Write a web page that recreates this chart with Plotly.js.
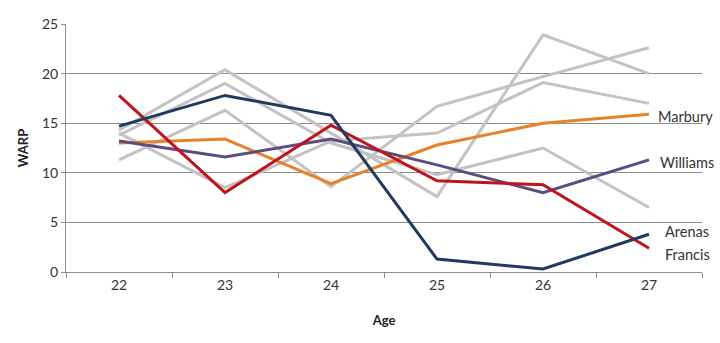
<!DOCTYPE html>
<html>
<head>
<meta charset="utf-8">
<script src="https://cdn.plot.ly/plotly-3.0.1.min.js"></script>
<style>html,body{margin:0;padding:0;background:#fff;}#chart{width:720px;height:343px;}</style>
</head>
<body>
<div id="chart"></div>
<script>
var ages = ['22', '23', '24', '25', '26', '27'];

var gray1 = [14.3, 20.4, 14.0, 7.6, 23.9, 20.0];
var gray2 = [13.8, 19.0, 13.0, 9.8, 12.5, 6.5];
var gray3 = [11.3, 16.3, 8.6, 16.7, 19.7, 22.6];
var gray4 = [14.0, 8.5, 13.2, 14.0, 19.1, 17.0];

var marbury = [13.0, 13.4, 8.9, 12.8, 15.0, 15.9];
var williams = [13.2, 11.6, 13.4, 10.8, 8.0, 11.3];
var francis = [17.8, 8.0, 14.8, 9.2, 8.8, 2.4];
var arenas = [14.7, 17.8, 15.8, 1.3, 0.3, 3.8];

var names = ['Marbury', 'Williams', 'Arenas', 'Francis'];

function line(y, color, name) {
  return {x: ages, y: y, type: 'scatter', mode: 'lines', name: name,
          line: {color: color, width: 3}, hoverinfo: 'skip'};
}

var traces = [
  line(gray1, '#c3c3c3', 'g1'),
  line(gray2, '#c3c3c3', 'g2'),
  line(gray3, '#c3c3c3', 'g3'),
  line(gray4, '#c3c3c3', 'g4'),
  line(marbury, '#e8822a', names[0]),
  line(williams, '#5f4b80', names[1]),
  line(francis, '#c0141c', names[3]),
  line(arenas, '#1f3a5c', names[2])
];

var lf = {family: 'Lato, "Open Sans", sans-serif', size: 14.5, color: '#333'};
var last = ages.length - 1;
var annotations = [
  {y: marbury[last], text: names[0], xshift: 7, yshift: -2},
  {y: williams[last], text: names[1], xshift: 9, yshift: -3},
  {y: arenas[last], text: names[2], xshift: 14, yshift: 3},
  {y: francis[last], text: names[3], xshift: 14, yshift: -6}
].map(function (a) {
  a.x = last; a.xref = 'x'; a.yref = 'y'; a.showarrow = false; a.xanchor = 'left';
  a.yanchor = 'middle'; a.font = lf; return a;
});

var layout = {
  width: 720, height: 343,
  margin: {l: 66, r: 18, t: 24, b: 71},
  paper_bgcolor: '#fff', plot_bgcolor: '#fff',
  showlegend: false,
  font: {family: 'Lato, "Open Sans", sans-serif', size: 13, color: '#333'},
  xaxis: {
    type: 'category', tickson: 'boundaries', range: [-0.5, 5.5],
    showgrid: false, showline: true, linecolor: '#8c8c8c', linewidth: 1,
    ticks: 'outside', ticklen: 5, tickcolor: '#8c8c8c',
    tickfont: {size: 14, color: '#333'},
    title: {text: '<b>Age</b>', font: {size: 13, color: '#222'}, standoff: 24},
    zeroline: false, fixedrange: true
  },
  yaxis: {
    range: [0, 25], dtick: 5, showgrid: true, gridcolor: '#8c8c8c', gridwidth: 1,
    showline: true, linecolor: '#8c8c8c', linewidth: 1,
    ticks: 'outside', ticklen: 4, tickcolor: '#8c8c8c',
    tickfont: {size: 14, color: '#333'},
    title: {text: '<b>WARP</b>', font: {size: 13, color: '#222'}, standoff: 10},
    zeroline: false, fixedrange: true
  },
  annotations: annotations
};

Plotly.newPlot('chart', traces, layout, {displayModeBar: false, staticPlot: true});
</script>
</body>
</html>
